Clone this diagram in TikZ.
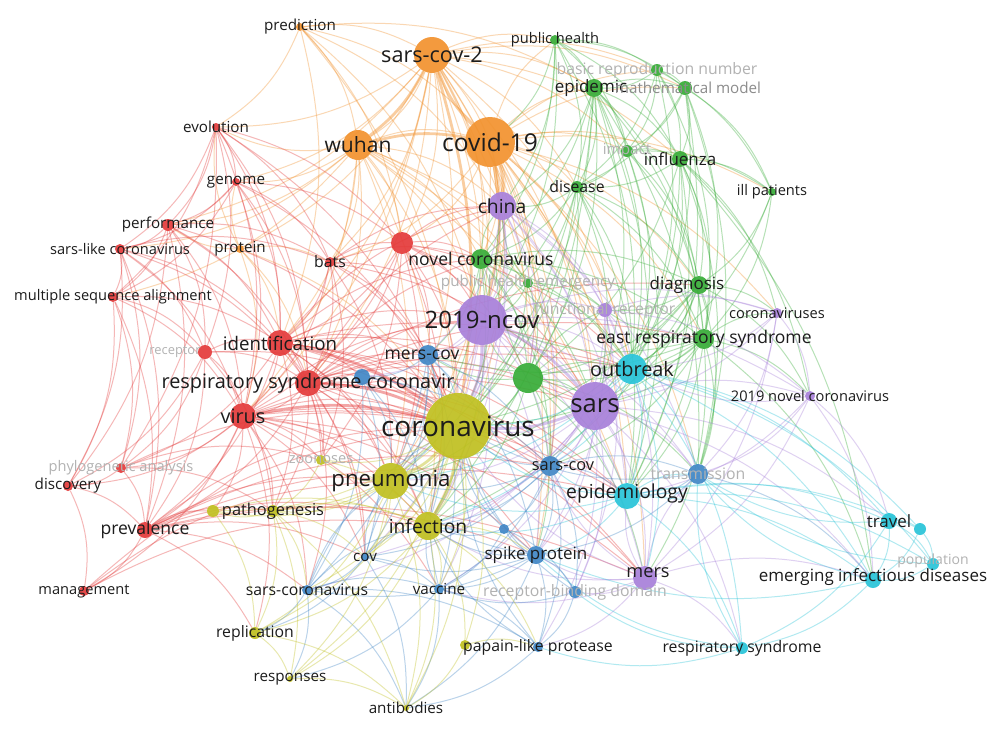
\documentclass[tikz,border=0pt]{standalone}
\usepackage{fontspec}
\setmainfont{Open Sans}
\pgfdeclarelayer{edges}
\pgfdeclarelayer{fg}
\pgfsetlayers{edges,main,fg}
\definecolor{cR}{RGB}{228,58,58}
\definecolor{cG}{RGB}{55,172,55}
\definecolor{cB}{RGB}{65,135,198}
\definecolor{cY}{RGB}{192,192,32}
\definecolor{cP}{RGB}{168,128,218}
\definecolor{cC}{RGB}{40,196,216}
\definecolor{cO}{RGB}{242,146,46}
\definecolor{ink}{RGB}{28,28,28}
\tikzset{
  dot/.style={circle,draw=none,inner sep=0pt,opacity=0.92},
  lbl/.style={inner sep=0pt,text=ink},
  faint/.style={text=black!30},
  edge/.style={line width=1pt,opacity=0.36,bend left=17},
  hub/.style={line width=2.8pt,opacity=0.45,bend left=12}
}
\newcommand\nd[8][]{%
  \node[dot,fill=#6,minimum size=2*#5 pt] (#2) at (#3,#4) {};
  \pgfmathsetmacro\fsz{#7*1.17}%
  \begin{pgfonlayer}{fg}\node[lbl,font=\fontsize{\fsz}{\fsz}\selectfont,#1] at (#3,#4) {#8};\end{pgfonlayer}}
\newcommand\E[3]{\foreach \t in {#3}{\draw[edge,#1] (#2) to (\t);}}
\begin{document}
\begin{tikzpicture}[x=1pt,y=-1pt]
\useasboundingbox (0,0) rectangle (1000,729);
% ---------------- nodes: orange
\nd{pred}{300}{27}{4}{cO}{13}{prediction}
\nd{sc2}{432}{55}{18}{cO}{18.5}{sars-cov-2}
\nd{wuh}{358}{145}{15}{cO}{18}{wuhan}
\nd{cov19}{490}{142}{25}{cO}{21}{covid-19}
\nd{prot}{240}{249}{4}{cO}{13}{protein}
% red
\nd{evol}{216}{127}{4}{cR}{13}{evolution}
\nd{genome}{236}{182}{4}{cR}{13}{genome}
\nd{perf}{168}{225}{6}{cR}{13}{performance}
\nd{slc}{120}{249}{5}{cR}{12.5}{sars-like coronavirus}
\nd{msa}{113}{297}{5}{cR}{12.5}{multiple sequence alignment}
\nd{bats}{330}{262}{5}{cR}{13.5}{bats}
\nd{redu}{402}{243}{11}{cR}{10}{}
\nd[faint,xshift=-30pt]{recp}{205}{352}{7}{cR}{11}{receptor}
\nd{ident}{280}{343}{13}{cR}{16}{identification}
\nd{rsc}{308}{383}{13}{cR}{17}{respiratory syndrome coronavir}
\nd{virus}{243}{416}{13}{cR}{17}{virus}
\nd[faint]{phylo}{121}{468}{5}{cR}{12.5}{phylogenetic analysis}
\nd{disc}{68}{486}{5}{cR}{13}{discovery}
\nd{prev}{145}{530}{8}{cR}{15}{prevalence}
\nd{mgmt}{84}{591}{5}{cR}{12.5}{management}
% green
\nd{pubh}{555}{40}{5}{cG}{12.5}{public health}
\nd[faint]{brn}{657}{70}{6}{cG}{13.5}{basic reproduction number}
\nd[xshift=-3pt]{epid}{594}{88}{9}{cG}{14.5}{epidemic}
\nd[text=black!45,xshift=3pt]{mm}{685}{88}{7}{cG}{13}{mathematical model}
\nd[faint]{impact}{627}{151}{6}{cG}{13}{impact}
\nd{infl}{680}{159}{8}{cG}{14.5}{influenza}
\nd{ill}{772}{192}{4}{cG}{12.5}{ill patients}
\nd{dis}{577}{187}{6}{cG}{13.5}{disease}
\nd{nc}{481}{259}{10}{cG}{15}{novel coronavirus}
\nd[faint]{phe}{528}{283}{5}{cG}{13}{public health emergency}
\nd[xshift=-12pt]{diag}{699}{285}{9}{cG}{14.5}{diagnosis}
\nd{ers}{704}{339}{10}{cG}{15}{east respiratory syndrome}
\nd{grnu}{528}{378}{15}{cG}{10}{}
% purple
\nd{china}{502}{206}{14}{cP}{16.5}{china}
\nd{ncov}{482}{320}{25}{cP}{20.5}{2019-ncov}
\nd[faint]{fr}{605}{310}{7}{cP}{13.5}{functional receptor}
\nd{covs}{777}{313}{5}{cP}{12.5}{coronaviruses}
\nd{sars}{595}{406}{24}{cP}{21.8}{sars}
\nd{n19}{810}{396}{5}{cP}{12.5}{2019 novel coronavirus}
\nd[yshift=5pt,xshift=3pt]{mers}{645}{578}{12}{cP}{15.5}{mers}
% cyan
\nd{outb}{632}{369}{15}{cC}{17}{outbreak}
\nd[yshift=3pt]{epidy}{627}{496}{13}{cC}{16.5}{epidemiology}
\nd{travel}{889}{521}{8}{cC}{14.5}{travel}
\nd{cyu}{920}{529}{6}{cC}{10}{}
\nd[faint,yshift=3pt]{popu}{933}{564}{6}{cC}{12}{population}
\nd[yshift=3pt]{eid}{873}{580}{8}{cC}{14.5}{emerging infectious diseases}
\nd{resp}{742}{648}{6}{cC}{13.5}{respiratory syndrome}
% blue
\nd[xshift=-6pt]{merscov}{428}{355}{10}{cB}{15}{mers-cov}
\nd{bluu}{362}{377}{8}{cB}{10}{}
\nd[xshift=13pt]{sarscov}{550}{466}{10}{cB}{14}{sars-cov}
\nd[faint]{trans}{698}{474}{10}{cB}{13.5}{transmission}
\nd{spike}{536}{555}{9}{cB}{14.5}{spike protein}
\nd{blu2}{504}{529}{5}{cB}{10}{}
\nd[faint]{rbd}{575}{592}{6}{cB}{13.5}{receptor-binding domain}
\nd{cov}{365}{557}{4}{cB}{13}{cov}
\nd{sarscorona}{307}{590}{5}{cB}{13.5}{sars-coronavirus}
\nd{vacc}{439}{589}{5}{cB}{13}{vaccine}
\nd{plp}{538}{647}{5}{cB}{13.5}{papain-like protease}
% yellow
\nd{corona}{458}{426}{33}{cY}{23.9}{coronavirus}
\nd{pneu}{391}{481}{18}{cY}{19}{pneumonia}
\nd[faint]{zoon}{321}{460}{5}{cY}{12.5}{zoonoses}
\nd{patho}{273}{511}{6}{cY}{14}{pathogenesis}
\nd{yel2}{213}{511}{6}{cY}{10}{}
\nd{infect}{428}{526}{14}{cY}{16.5}{infection}
\nd{repl}{255}{633}{6}{cY}{13.5}{replication}
\nd{respo}{290}{679}{3}{cY}{13}{responses}
\nd{antib}{406}{708}{3}{cY}{13}{antibodies}
\nd{yelu}{465}{645}{5}{cY}{10}{}
% ---------------- edges
\begin{pgfonlayer}{edges}
\fill[white] (0,0) rectangle (1000,729);
% orange
\E{cO}{pred}{sc2,wuh,cov19,redu,evol,ident,corona,ncov,china,epid}
\E{cO}{sc2}{wuh,china,ncov,corona,nc,pubh,epid,dis,redu,bats,ident,rsc,pneu,sars,sarscov,spike,infl,impact,outb,mm,brn,prot,evol,genome,perf,virus,grnu}
\E{cO}{wuh}{cov19,china,ncov,corona,nc,pneu,redu,bats,ident,rsc,virus,perf,genome,evol,slc,msa,sars,outb,epidy,phe,infect}
\E{cO}{cov19}{china,ncov,corona,nc,pneu,epid,dis,infl,impact,pubh,mm,brn,outb,sars,epidy,trans,grnu,diag,ers,redu,bats,infect,spike,ill,covs,fr,phe,sarscov,mers}
\E{cO}{prot}{ident,virus,rsc,genome,perf,corona,bats,evol}
\draw[hub,cO] (cov19) to (sc2);
\draw[hub,cO] (wuh) to (cov19);
\draw[hub,cO] (sc2) to (wuh);
\draw[hub,cO] (cov19) to (china);
\draw[hub,cO] (cov19) to (ncov);
\draw[hub,cO] (sc2) to (corona);
% red
\E{cR}{evol}{genome,perf,slc,msa,virus,ident,bats,redu,corona,rsc,recp,phylo}
\E{cR}{genome}{perf,slc,msa,ident,virus,bats,redu,rsc,corona}
\E{cR}{perf}{slc,msa,ident,virus,rsc,recp,bats,corona,prev,disc}
\E{cR}{slc}{msa,ident,recp,virus,rsc,bats,phylo,disc,prev}
\E{cR}{msa}{recp,ident,virus,phylo,disc,prev}
\E{cR}{bats}{redu,ident,rsc,virus,corona,ncov,nc,zoon,sars,china,pneu,merscov}
\E{cR}{redu}{ident,rsc,virus,corona,ncov,nc,china,sars,pneu,infect,merscov,zoon,grnu,outb}
\E{cR}{recp}{ident,rsc,virus,phylo,prev,disc,corona,patho}
\E{cR}{ident}{rsc,virus,corona,ncov,sars,pneu,merscov,bluu,infect,prev,phylo,patho,zoon,sarscov,nc,china,outb,epidy,mers,cov}
\E{cR}{rsc}{virus,corona,ncov,sars,pneu,merscov,bluu,infect,outb,epidy,sarscov,spike,mers,china,nc,prev,patho,zoon,cov,sarscorona,grnu,ers,diag}
\E{cR}{virus}{corona,pneu,infect,prev,phylo,disc,patho,zoon,sars,ncov,sarscov,spike,mers,cov,sarscorona,repl,vacc,epidy,outb,mgmt,yel2}
\E{cR}{phylo}{disc,prev,corona,zoon,patho}
\E{cR}{disc}{prev,mgmt}
\E{cR}{prev}{mgmt,corona,pneu,infect,patho,cov,sarscorona,repl,sarscov,epidy,mers,spike,yel2}
\E{cR}{mgmt}{corona,infect,pneu}
\draw[hub,cR] (rsc) to (corona);
\draw[hub,cR] (virus) to (corona);
\draw[hub,cR] (ident) to (corona);
% green
\E{cG}{pubh}{epid,brn,mm,infl,impact,dis,nc,ncov,china,cov19,outb}
\E{cG}{brn}{epid,mm,infl,impact,dis,outb,ers,ill}
\E{cG}{epid}{mm,infl,impact,dis,nc,china,ncov,sars,outb,ers,diag,epidy,trans,grnu,corona,infect}
\E{cG}{mm}{infl,impact,dis,ill,outb,trans,epidy,ers}
\E{cG}{impact}{infl,dis,ill,outb,epidy,ers,diag}
\E{cG}{infl}{ill,dis,diag,ers,outb,epidy,sars,trans,eid,covs,n19,grnu}
\E{cG}{ill}{diag,ers,outb}
\E{cG}{dis}{nc,ncov,china,grnu,outb,sars,ers,diag,epidy,corona,pneu}
\E{cG}{nc}{ncov,china,grnu,phe,corona,sars,outb,pneu,fr,ers,infect,merscov,sarscov,diag}
\E{cG}{phe}{ncov,grnu,china,fr,outb,corona}
\E{cG}{diag}{ers,outb,sars,covs,n19,grnu,epidy,fr,trans,infect,corona,pneu}
\E{cG}{ers}{outb,sars,covs,n19,grnu,fr,epidy,trans,corona,ncov,mers,merscov,sarscov,eid}
\E{cG}{grnu}{corona,ncov,sars,outb,china,pneu,infect,merscov,sarscov,fr,epidy,spike,mers,trans}
% purple
\E{cP}{china}{ncov,corona,sars,outb,pneu,infect,fr,epidy,grnu,merscov,sarscov,trans}
\E{cP}{ncov}{corona,sars,outb,fr,pneu,infect,merscov,bluu,sarscov,epidy,spike,mers,trans,covs,n19,vacc,cov}
\E{cP}{fr}{sars,outb,covs,n19,sarscov,spike,rbd,mers}
\E{cP}{covs}{sars,n19,outb,mers,trans}
\E{cP}{sars}{corona,outb,epidy,sarscov,spike,mers,trans,n19,pneu,infect,rbd,plp,resp,eid,travel,vacc,cov,sarscorona}
\E{cP}{n19}{outb,epidy,trans,travel,eid,mers}
\E{cP}{mers}{corona,spike,rbd,sarscov,trans,epidy,resp,eid,plp,vacc,infect}
\draw[hub,cP] (ncov) to (corona);
\draw[hub,cP] (sars) to (corona);
\draw[hub,cP] (ncov) to (sars);
% cyan
\E{cC}{outb}{corona,epidy,trans,sarscov,travel,eid,popu,resp,mers,pneu,infect,cyu}
\E{cC}{epidy}{corona,trans,sarscov,travel,eid,popu,resp,cyu,pneu,infect,spike}
\E{cC}{travel}{cyu,popu,eid,trans,resp}
\E{cC}{cyu}{popu,eid}
\E{cC}{popu}{eid,trans}
\E{cC}{eid}{resp,trans,spike}
\E{cC}{resp}{trans,spike,plp,rbd}
% blue
\E{cB}{merscov}{corona,bluu,sarscov,pneu,infect,spike,cov,vacc,sarscorona}
\E{cB}{bluu}{corona,pneu,infect,cov,sarscorona,sarscov}
\E{cB}{sarscov}{corona,spike,blu2,rbd,plp,vacc,cov,infect,pneu,trans,epidy}
\E{cB}{trans}{corona,epidy,spike,eid}
\E{cB}{spike}{blu2,rbd,plp,vacc,cov,sarscorona,infect,corona,pneu,antib}
\E{cB}{blu2}{corona,rbd,vacc,infect}
\E{cB}{rbd}{plp,vacc,corona}
\E{cB}{cov}{sarscorona,vacc,corona,pneu,infect,repl,antib}
\E{cB}{sarscorona}{vacc,repl,respo,corona,pneu,infect,plp,antib}
\E{cB}{vacc}{plp,antib,corona,infect,respo}
\E{cB}{plp}{corona,infect,antib}
% yellow
\E{cY}{corona}{pneu,infect,zoon,patho,repl,respo,antib,yelu,cov,sarscorona,vacc,yel2}
\E{cY}{pneu}{infect,zoon,patho,repl,respo,antib,cov,yel2}
\E{cY}{zoon}{patho,infect}
\E{cY}{patho}{infect,repl,respo,antib,cov,sarscorona,yel2}
\E{cY}{yel2}{infect,repl}
\E{cY}{infect}{repl,respo,antib,yelu,vacc,plp,spike}
\E{cY}{repl}{respo,antib}
\E{cY}{respo}{antib}
\E{cY}{yelu}{antib,plp}
\draw[hub,cY] (corona) to (pneu);
\draw[hub,cY] (corona) to (infect);
\end{pgfonlayer}
\end{tikzpicture}
\end{document}
